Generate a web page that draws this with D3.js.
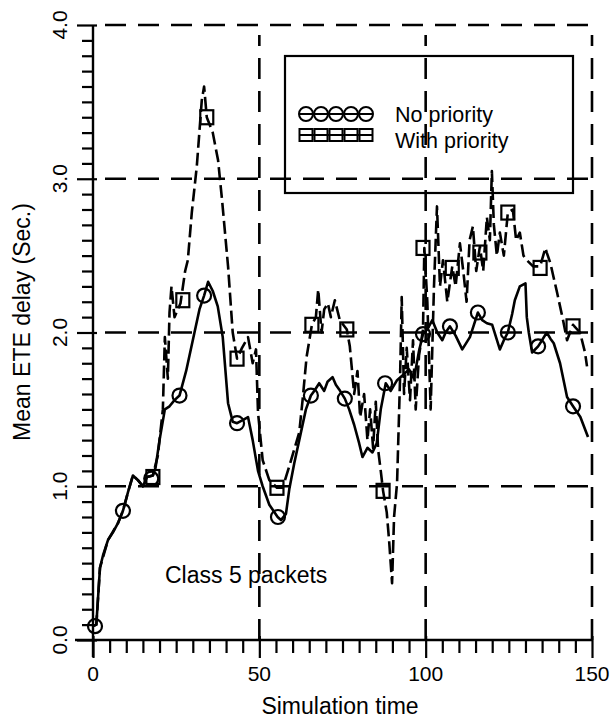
<!DOCTYPE html>
<html>
<head>
<meta charset="utf-8">
<script src="https://cdn.jsdelivr.net/npm/d3@7"></script>
<style>
  html, body { margin: 0; padding: 0; background: #fff; }
  svg { display: block; }
  text { font-family: "Liberation Sans", Arial, Helvetica, sans-serif; fill: #000; }
</style>
</head>
<body>
<svg id="chart" width="613" height="718"></svg>
<script>
// Mean end-to-end delay of class 5 packets over simulation time
const xTicks = [0, 50, 100, 150];
const yTicks = [0, 1, 2, 3, 4];
const yTickLabels = ["0.0", "1.0", "2.0", "3.0", "4.0"];
const seriesNames = ["No priority", "With priority"];

// [simulation time, mean ETE delay]
const noPriority = [
  [0,0.09],[1,0.1],[2.1,0.47],[3,0.55],[4.5,0.65],[6,0.7],[7.5,0.76],[9,0.84],[10.5,0.96],[12,1.07],
  [13.5,1.04],[15,1.0],[16.2,1.06],[18,1.07],[18.8,1.12],[20,1.3],[21.6,1.5],[23,1.52],[24.5,1.56],[26,1.59],
  [28,1.75],[30,1.95],[32,2.15],[33.4,2.24],[34.6,2.33],[36,2.27],[37.5,2.17],[39,1.97],[40.6,1.54],[42,1.42],
  [43.3,1.41],[45,1.43],[46.6,1.45],[48,1.3],[49.6,1.1],[51,1.0],[53,0.88],[55.5,0.8],[56.5,0.78],[58,0.82],
  [59,0.98],[60.5,1.15],[62,1.3],[64,1.5],[65.5,1.59],[66.5,1.62],[68,1.67],[69.5,1.62],[70.5,1.68],[72,1.71],
  [73,1.66],[74,1.63],[75.7,1.57],[77,1.5],[78.5,1.4],[80,1.28],[81,1.19],[82.5,1.25],[84,1.22],[85.3,1.28],
  [86.5,1.5],[88,1.67],[89.5,1.62],[91.4,1.69],[93,1.72],[95,1.76],[96.5,1.7],[98,1.88],[99.2,1.99],[100.5,2.02],
  [102,2.08],[103.5,2.0],[105,1.95],[106,2.0],[107.3,2.04],[109,1.98],[111,1.89],[113.3,1.97],[114.5,2.05],[115.7,2.13],
  [117,2.08],[118.4,2.06],[120,2.05],[122.3,1.89],[123.5,1.95],[124.7,2.0],[126,2.12],[126.8,2.21],[128.3,2.3],[130,2.32],
  [130.4,2.1],[131,2.0],[132,1.87],[133.8,1.91],[135,1.95],[136.4,2.0],[137.5,1.96],[138.5,1.93],[140.4,1.8],[142.5,1.58],
  [144.3,1.52],[146.5,1.45],[148.8,1.32]
];
const noPriorityMarks = [
  [0.6,0.09],[9,0.84],[17.5,1.05],[26,1.59],[33.4,2.24],[43.3,1.41],[55.6,0.8],[65.5,1.59],
  [75.7,1.57],[87.8,1.67],[99.2,1.99],[107.3,2.04],[115.7,2.13],[124.7,2.0],[133.8,1.91],[144.3,1.52]
];

const withPriority = [
  [0,0.09],[1,0.1],[2.1,0.47],[4.5,0.65],[7.5,0.76],[9,0.84],[10.5,0.96],[12,1.07],[13.5,1.04],[15,1.0],
  [16.2,1.06],[18,1.07],[19.5,1.2],[21,1.5],[21.6,1.97],[22.5,1.7],[23,2.13],[23.6,2.3],[24.5,2.1],[26.3,2.19],
  [27.7,2.4],[28.5,2.47],[29.7,2.78],[31.2,3.08],[32.7,3.51],[33.4,3.6],[34.2,3.4],[36,3.3],[37.6,3.12],[38.8,2.86],
  [40.6,2.43],[42,2.0],[43.3,1.83],[44.8,1.9],[46.6,1.97],[48,1.8],[49,1.89],[49.6,1.48],[51,1.17],[53,1.04],
  [55.3,0.99],[57,0.99],[59,1.13],[62,1.35],[63,1.56],[64.2,1.84],[65.8,2.05],[67,2.1],[67.7,2.28],[68.7,2.0],
  [69.5,2.15],[70.6,2.19],[71.5,2.1],[72.7,2.21],[74.2,2.08],[76.3,2.02],[77.2,1.91],[78.5,1.6],[79.5,1.75],[80.3,1.45],
  [81.5,1.6],[82.5,1.3],[83.3,1.5],[84.2,1.25],[85,1.55],[85.7,1.24],[86.5,1.1],[87.2,0.97],[88.3,0.83],[89,0.65],
  [89.9,0.37],[90.5,0.8],[91.4,1.02],[92.3,1.7],[92.8,2.23],[93.5,1.6],[94.3,1.9],[95.3,1.56],[96.2,1.95],[97,1.5],
  [98,1.85],[99.2,2.02],[99.6,2.55],[100.5,2.2],[101.5,1.5],[102.5,2.3],[103.4,2.82],[104.3,2.3],[105.2,2.47],[106.5,2.2],
  [108,2.43],[109,2.3],[110.3,2.58],[111.3,2.4],[112.3,2.2],[113.2,2.6],[114.2,2.69],[115.2,2.4],[116.3,2.56],[117.3,2.4],
  [118.4,2.75],[119.3,2.6],[119.9,3.05],[120.5,2.7],[121.4,2.5],[122.3,2.65],[123.5,2.5],[124.7,2.78],[126.2,2.8],[127.2,2.6],
  [128.3,2.65],[129.4,2.5],[130.4,2.47],[132.3,2.43],[134.4,2.43],[136,2.55],[136.4,2.52],[137.5,2.45],[139.5,2.26],[141.3,2.08],
  [142.5,1.95],[144.3,2.05],[146.4,2.0],[147.9,1.87],[148.5,1.78]
];
const withPriorityMarks = [
  [18,1.06],[27,2.21],[34.2,3.4],[43.3,1.83],[55.3,0.99],[65.8,2.05],[76.3,2.02],[87.2,0.97],
  [99.2,2.55],[108,2.42],[116.3,2.52],[124.7,2.78],[134.4,2.42],[144.3,2.04]
];

const svg = d3.select("#chart");
const x = d3.scaleLinear().domain([0, 150]).range([93, 592]);
const y = d3.scaleLinear().domain([0, 4]).range([640, 25]);

// dashed reference grid
const grid = svg.append("g").attr("stroke", "#000").attr("stroke-width", 2.6)
  .attr("stroke-dasharray", "21,12").attr("fill", "none");
yTicks.filter(v => v > 0).forEach(v => {
  grid.append("line").attr("x1", x(0) + 12).attr("x2", x(150)).attr("y1", y(v)).attr("y2", y(v));
});
xTicks.filter(v => v > 0).forEach(v => {
  grid.append("line").attr("x1", x(v)).attr("x2", x(v)).attr("y1", y(0)).attr("y2", y(4) + 10);
});

// axes
const xAxis = d3.axisBottom(x).tickValues(d3.range(0, 151, 5)).tickSize(15).tickFormat("");
const gx = svg.append("g").attr("transform", `translate(0,${y(0)})`).call(xAxis);
gx.select(".domain").remove();
gx.selectAll(".tick line").attr("stroke", "#000").attr("stroke-width", 2.2)
  .attr("y1", d => xTicks.includes(d) ? -4 : 0).attr("y2", d => xTicks.includes(d) ? 18 : 13);
svg.append("line").attr("x1", 75).attr("x2", x(150)).attr("y1", y(0)).attr("y2", y(0))
  .attr("stroke", "#000").attr("stroke-width", 2.4);

const yAxis = d3.axisLeft(y).tickValues(d3.range(0, 41).map(i => i / 10)).tickSize(11).tickFormat("");
const gy = svg.append("g").attr("transform", `translate(${x(0)},0)`).call(yAxis);
gy.select(".domain").remove();
gy.selectAll(".tick line").attr("stroke", "#000").attr("stroke-width", 2.2)
  .attr("x1", (d, i) => i % 10 === 0 ? 4 : 0).attr("x2", (d, i) => i % 10 === 0 ? -16 : -11);
svg.append("line").attr("x1", x(0)).attr("x2", x(0)).attr("y1", y(4)).attr("y2", y(0) + 17)
  .attr("stroke", "#000").attr("stroke-width", 2.4);

// tick labels
svg.append("g").selectAll("text").data(xTicks).join("text")
  .attr("x", d => x(d)).attr("y", 681).attr("text-anchor", "middle")
  .attr("font-size", 21).text(d => d);
svg.append("g").selectAll("text").data(yTicks).join("text")
  .attr("transform", d => `translate(67,${y(d)}) rotate(-90)`).attr("text-anchor", "middle")
  .attr("font-size", 21).text((d, i) => yTickLabels[i]);

// axis titles
svg.append("text").attr("x", 340).attr("y", 714).attr("text-anchor", "middle")
  .attr("font-size", 23).text("Simulation time");
svg.append("text").attr("transform", "translate(30,322) rotate(-90)").attr("text-anchor", "middle")
  .attr("font-size", 23).text("Mean ETE delay (Sec.)");

// series
const line = d3.line().x(d => x(d[0])).y(d => y(d[1]));
svg.append("path").datum(withPriority).attr("d", line).attr("fill", "none")
  .attr("stroke", "#000").attr("stroke-width", 2.6).attr("stroke-dasharray", "13,5")
  .attr("stroke-linejoin", "round");
svg.append("path").datum(noPriority).attr("d", line).attr("fill", "none")
  .attr("stroke", "#000").attr("stroke-width", 2.6).attr("stroke-linejoin", "round");

svg.append("g").selectAll("rect").data(withPriorityMarks).join("rect")
  .attr("x", d => x(d[0]) - 6.5).attr("y", d => y(d[1]) - 7).attr("width", 13).attr("height", 14)
  .attr("fill", "none").attr("stroke", "#000").attr("stroke-width", 2.2);
svg.append("g").selectAll("circle").data(noPriorityMarks).join("circle")
  .attr("cx", d => x(d[0])).attr("cy", d => y(d[1])).attr("r", 7)
  .attr("fill", "none").attr("stroke", "#000").attr("stroke-width", 2.2);

// annotation
svg.append("text").attr("x", 165).attr("y", 583).attr("font-size", 23).text("Class 5 packets");

// legend
const lg = svg.append("g");
lg.append("rect").attr("x", 285).attr("y", 56).attr("width", 288).attr("height", 137)
  .attr("fill", "none").attr("stroke", "#000").attr("stroke-width", 2.2);
const sampleX = d3.range(5).map(i => 306 + i * 15);
lg.append("line").attr("x1", 299).attr("x2", 373).attr("y1", 114).attr("y2", 114)
  .attr("stroke", "#000").attr("stroke-width", 2);
lg.selectAll("circle").data(sampleX).join("circle")
  .attr("cx", d => d).attr("cy", 114).attr("r", 7)
  .attr("fill", "none").attr("stroke", "#000").attr("stroke-width", 2);
lg.append("line").attr("x1", 299).attr("x2", 373).attr("y1", 135).attr("y2", 135)
  .attr("stroke", "#000").attr("stroke-width", 2);
lg.selectAll("rect.s").data(sampleX).join("rect").attr("class", "s")
  .attr("x", d => d - 6.5).attr("y", 129).attr("width", 13).attr("height", 12)
  .attr("fill", "none").attr("stroke", "#000").attr("stroke-width", 2);
lg.selectAll("text").data(seriesNames).join("text")
  .attr("x", 395).attr("y", (d, i) => 122 + i * 26).attr("font-size", 21.5).text(d => d);
</script>
</body>
</html>
